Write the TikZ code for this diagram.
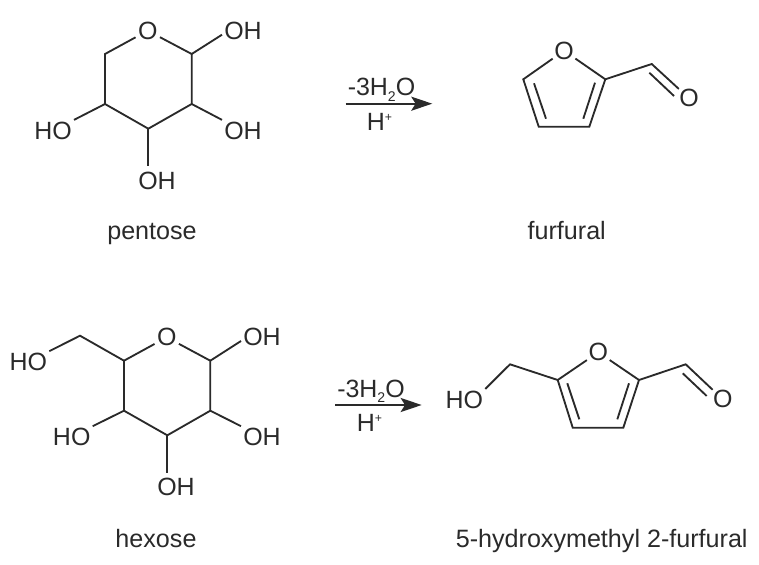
\documentclass[tikz,border=0pt]{standalone}
\usepackage{fontspec}
\setmainfont{Liberation Sans}
\usetikzlibrary{arrows.meta, calc}
\definecolor{inkcolor}{RGB}{42,42,42}
\newcommand{\subtwo}{\raisebox{-3.2pt}{\fontsize{8}{8}\selectfont 2}}
\newcommand{\supplus}{\raisebox{5.5pt}{\fontsize{7}{7}\selectfont +}}

\begin{document}
\begin{tikzpicture}[x=0.02cm, y=-0.02cm,
    atom/.style={inner sep=1.1pt, font=\fontsize{14.2}{16}\selectfont, text=inkcolor},
    ringatom/.style={circle, inner sep=0pt, minimum size=0.54cm, font=\fontsize{14.2}{16}\selectfont, text=inkcolor},
    caption/.style={anchor=base, inner sep=0pt, font=\fontsize{14.3}{16}\selectfont, text=inkcolor},
    reagent/.style={anchor=base, inner sep=0pt, font=\fontsize{14.2}{16}\selectfont, text=inkcolor},
    bond/.style={line width=1.05pt, draw=inkcolor, line join=miter},
    reaction/.style={-{Stealth[length=12pt, width=8pt, inset=2.5pt]}, line width=1.05pt, draw=inkcolor}
]
    \useasboundingbox (0, 0) rectangle (759, 564);

    % === PENTOSE ===
    \node[ringatom] (po) at (147.7, 30.7) {O};
    \coordinate (pc1) at (191.7, 54);
    \coordinate (pc2) at (191.7, 104);
    \coordinate (pc3) at (148.3, 128.7);
    \coordinate (pc4) at (105, 104);
    \coordinate (pc5) at (105, 54);
    \node[atom] (poh1) at (243, 31) {OH};
    \node[atom] (poh2) at (243, 131) {OH};
    \node[atom] (poh3) at (157, 181) {OH};
    \node[atom] (poh4) at (53, 131) {HO};
    \draw[bond] (po) -- (pc1) -- (pc2) -- (pc3) -- (pc4) -- (pc5) -- (po);
    \draw[bond] (pc1) -- (poh1.190);
    \draw[bond] (pc2) -- (poh2.north west);
    \draw[bond, shorten >=2pt] (pc3) -- (pc3 |- poh3.north);
    \draw[bond] (pc4) -- (poh4.north east);
    \node[caption] (pname) at (152, 239.5) {pentose};

    % === FLECHE 1 ===
    \coordinate (r1a) at (345.7, 103.7);
    \coordinate (r1b) at (432.3, 103.7);
    \draw[reaction] (r1a) -- (r1b);
    \node[reagent] (r1top) at (381.5, 96) {-3H\subtwo O};
    \node[reagent] (r1bot) at (379.5, 130.7) {H\supplus};

    % === FURFURAL ===
    \node[ringatom] (fo) at (564, 50.7) {O};
    \coordinate (fc2) at (605.3, 79.3);
    \coordinate (fc3) at (589.3, 126.7);
    \coordinate (fc4) at (538.7, 126.7);
    \coordinate (fc5) at (523.3, 79.3);
    \coordinate (fcho) at (651.7, 64);
    \node[ringatom] (fald) at (689, 98.3) {O};
    \draw[bond] (fo) -- (fc2) -- (fc3) -- (fc4) -- (fc5) -- (fo);
    \draw[bond] (fc2) -- (fcho) -- (fald);
    % inner lines of the double bonds
    \coordinate (fi1) at (595, 82.7);
    \coordinate (fi2) at (583.3, 118.7);
    \coordinate (fi3) at (534, 83.3);
    \coordinate (fi4) at (546, 118.7);
    \coordinate (fi5) at (649.3, 72.7);
    \coordinate (fi6) at (674, 96);
    \draw[bond] (fi1) -- (fi2);
    \draw[bond] (fi3) -- (fi4);
    \draw[bond] (fi5) -- (fi6);
    \node[caption] (fname) at (566.7, 239.5) {furfural};

    % === HEXOSE ===
    \node[ringatom] (ho) at (166.7, 337.3) {O};
    \coordinate (hc1) at (210.3, 360.7);
    \coordinate (hc2) at (210.3, 410.7);
    \coordinate (hc3) at (167.3, 435.3);
    \coordinate (hc4) at (124, 410.7);
    \coordinate (hc5) at (124, 360.7);
    \coordinate (hc6) at (80, 335.7);
    \node[atom] (hoh1) at (262, 337.3) {OH};
    \node[atom] (hoh2) at (262, 437.3) {OH};
    \node[atom] (hoh3) at (176, 486.7) {OH};
    \node[atom] (hoh4) at (71.7, 437.3) {HO};
    \node[atom] (hoh5) at (28.3, 362.3) {HO};
    \draw[bond] (ho) -- (hc1) -- (hc2) -- (hc3) -- (hc4) -- (hc5) -- (ho);
    \draw[bond] (hc1) -- (hoh1.190);
    \draw[bond] (hc2) -- (hoh2.north west);
    \draw[bond, shorten >=1.3pt] (hc3) -- (hc3 |- hoh3.north);
    \draw[bond] (hc4) -- (hoh4.north east);
    \draw[bond] (hc5) -- (hc6) -- (hoh5.north east);
    \node[caption] (hname) at (156, 547.5) {hexose};

    % === FLECHE 2 ===
    \coordinate (r2a) at (335, 405);
    \coordinate (r2b) at (421.7, 405);
    \draw[reaction] (r2a) -- (r2b);
    \node[reagent] (r2top) at (371, 397.3) {-3H\subtwo O};
    \node[reagent] (r2bot) at (369.5, 431.7) {H\supplus};

    % === 5-HMF ===
    \node[ringatom] (mo) at (598.3, 352.3) {O};
    \coordinate (mc2) at (639, 380);
    \coordinate (mc3) at (623.3, 427.7);
    \coordinate (mc4) at (572.7, 427.7);
    \coordinate (mc5) at (557.7, 380);
    \coordinate (mch) at (510, 364.3);
    \coordinate (mcho) at (685.7, 364.3);
    \node[atom] (moh) at (464.3, 400) {HO};
    \node[ringatom] (mald) at (722.7, 399.3) {O};
    \draw[bond] (mo) -- (mc2) -- (mc3) -- (mc4) -- (mc5) -- (mo);
    \draw[bond] (mc2) -- (mcho) -- (mald);
    \draw[bond] (mc5) -- (mch) -- (moh.north east);
    % inner lines of the double bonds
    \coordinate (mi1) at (629, 383.3);
    \coordinate (mi2) at (617.3, 419.3);
    \coordinate (mi3) at (567.3, 383.3);
    \coordinate (mi4) at (579.3, 419.3);
    \coordinate (mi5) at (682.7, 373.3);
    \coordinate (mi6) at (706.7, 396);
    \draw[bond] (mi1) -- (mi2);
    \draw[bond] (mi3) -- (mi4);
    \draw[bond] (mi5) -- (mi6);
    \node[caption] (mname) at (601.7, 547.5) {5-hydroxymethyl 2-furfural};

\end{tikzpicture}
\end{document}
